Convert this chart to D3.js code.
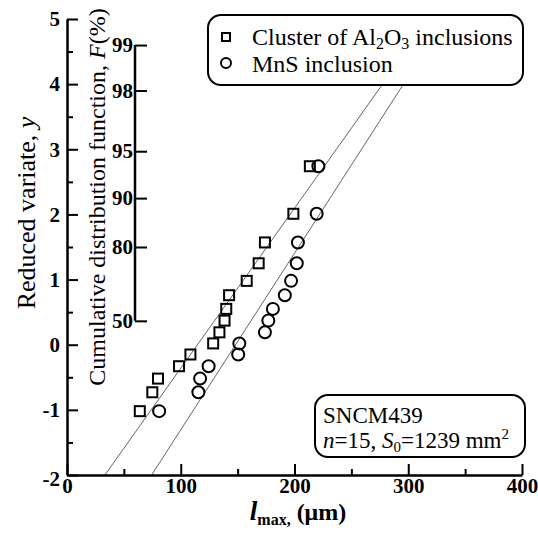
<!DOCTYPE html>
<html>
<head>
<meta charset="utf-8">
<script src="https://cdn.jsdelivr.net/npm/d3@7"></script>
<style>
  body { margin: 0; background: #fff; }
  svg { display: block; font-family: "Liberation Serif", "DejaVu Serif", serif; }
</style>
</head>
<body>
<svg id="chart" width="538" height="536"></svg>
<script>
// l_max (um), sorted
const alX = [64, 75, 80, 98.5, 108.5, 128.5, 134, 138.5, 140, 142.5, 158, 168.5, 174, 199, 213.5];
const alY = [-1.02, -0.73, -0.52, -0.33, -0.15, 0.02, 0.19, 0.37, 0.55, 0.76, 0.98, 1.25, 1.57, 2.01, 2.74];
const mnX = [81, 115.5, 117, 124.5, 150.5, 151.5, 174, 177, 181, 191.5, 197, 202, 203, 219.5, 221];
const mnY = [-1.02, -0.73, -0.52, -0.33, -0.15, 0.02, 0.19, 0.37, 0.55, 0.76, 0.98, 1.25, 1.57, 2.01, 2.74];

// fitted lines y = (x - lambda) / delta
const fitLambda = [114.7, 148.2];
const fitDelta = [40.7, 36.9];

const xTicks = [0, 100, 200, 300, 400];
const yTicks = [-2, -1, 0, 1, 2, 3, 4, 5];
const fTicks = [50, 80, 90, 95, 98, 99];

const svg = d3.select("#chart");

const x = d3.scaleLinear().domain([0, 400]).range([67, 522]);
const y = d3.scaleLinear().domain([-2, 5]).range([475, 19]);

const gumbel = f => -Math.log(-Math.log(f / 100));

// fit lines (drawn first, legend covers their tops)
const lines = svg.append("g");
fitLambda.forEach((lam, k) => {
    const d = fitDelta[k];
    lines.append("line")
        .attr("x1", x(lam - 2 * d)).attr("y1", y(-2))
        .attr("x2", x(lam + 5 * d)).attr("y2", y(5))
        .attr("stroke", "#666").attr("stroke-width", 1);
});

// axes
const yAxis = svg.append("g")
    .attr("transform", `translate(${x(0)},0)`)
    .call(d3.axisLeft(y).tickValues(yTicks).tickFormat(String)
        .tickSize(-11).tickSizeOuter(0).tickPadding(7));
svg.append("g")
    .attr("transform", `translate(${x(0)},0)`)
    .call(d3.axisLeft(y).tickValues(d3.range(-1.5, 5, 1)).tickSize(-6).tickSizeOuter(0).tickFormat(""))
    .select(".domain").remove();

const xAxis = svg.append("g")
    .attr("transform", `translate(0,${y(-2)})`)
    .call(d3.axisBottom(x).tickValues(xTicks).tickFormat(String)
        .tickSize(-11).tickSizeOuter(0).tickPadding(3));
svg.append("g")
    .attr("transform", `translate(0,${y(-2)})`)
    .call(d3.axisBottom(x).tickValues([50, 150, 250, 350]).tickSize(-6).tickSizeOuter(0).tickFormat(""))
    .select(".domain").remove();

svg.selectAll(".domain").attr("stroke-width", 2.5);
svg.selectAll(".tick line").attr("stroke-width", 2);
[yAxis, xAxis].forEach(a => a.selectAll("text")
    .attr("font-family", "Liberation Serif").attr("font-size", 21)
    .attr("font-weight", "bold").attr("fill", "#000"));
yAxis.select(".tick:first-of-type text").attr("dy", "0.5em");

// inner F axis
const fx = 135;
const fAxis = svg.append("g")
    .attr("transform", `translate(${fx},0)`)
    .call(d3.axisLeft(y).tickValues(fTicks.map(gumbel)).tickSize(-12).tickPadding(2)
        .tickFormat(v => Math.round(100 * Math.exp(-Math.exp(-v)))));
fAxis.select(".domain").remove();
fAxis.selectAll(".tick line").attr("stroke-width", 2);
fAxis.selectAll("text").attr("font-family", "Liberation Serif").attr("font-size", 21)
    .attr("font-weight", "bold").attr("fill", "#000");
svg.append("line")
    .attr("x1", fx).attr("x2", fx)
    .attr("y1", y(gumbel(d3.max(fTicks)))).attr("y2", y(gumbel(d3.min(fTicks))))
    .attr("stroke", "#000").attr("stroke-width", 2.5);

// axis titles
svg.append("text")
    .attr("transform", "translate(35,213) rotate(-90)")
    .attr("text-anchor", "middle").attr("font-size", 26)
    .html('Reduced variate, <tspan font-style="italic">y</tspan>');

svg.append("text")
    .attr("transform", "translate(105,197) rotate(-90)")
    .attr("text-anchor", "middle").attr("font-size", 24)
    .html('Cumulative distribution function, <tspan font-style="italic">F</tspan>(%)');

svg.append("text")
    .attr("x", 298).attr("y", 520)
    .attr("text-anchor", "middle").attr("font-size", 24).attr("font-weight", "bold")
    .html('<tspan font-style="italic" font-size="27">l</tspan><tspan font-size="16" dy="5">max,</tspan><tspan dy="-5"> (μm)</tspan>');

// data points
const pts = svg.append("g").attr("fill", "none").attr("stroke", "#000").attr("stroke-width", 2);
pts.selectAll("rect.al")
    .data(alX.map((v, i) => [v, alY[i]]))
    .join("rect")
    .attr("class", "al")
    .attr("x", d => x(d[0]) - 5).attr("y", d => y(d[1]) - 5)
    .attr("width", 10).attr("height", 10);
pts.selectAll("circle.mn")
    .data(mnX.map((v, i) => [v, mnY[i]]))
    .join("circle")
    .attr("class", "mn")
    .attr("cx", d => x(d[0])).attr("cy", d => y(d[1]))
    .attr("r", 6);

// legend
const leg = svg.append("g");
leg.append("rect")
    .attr("x", 208).attr("y", 15).attr("width", 315).attr("height", 70)
    .attr("rx", 13).attr("fill", "#fff").attr("stroke", "#000").attr("stroke-width", 2);
leg.append("rect").attr("x", 222).attr("y", 33).attr("width", 8).attr("height", 8)
    .attr("fill", "none").attr("stroke", "#000").attr("stroke-width", 2);
leg.append("circle").attr("cx", 226).attr("cy", 63).attr("r", 5)
    .attr("fill", "none").attr("stroke", "#000").attr("stroke-width", 2);
leg.append("text").attr("x", 252).attr("y", 45).attr("font-size", 24)
    .html('Cluster of Al<tspan font-size="16" dy="4">2</tspan><tspan dy="-4">O</tspan><tspan font-size="16" dy="4">3</tspan><tspan dy="-4"> inclusions</tspan>');
leg.append("text").attr("x", 252).attr("y", 72).attr("font-size", 24).text("MnS inclusion");

// info box
const info = svg.append("g");
info.append("rect")
    .attr("x", 315).attr("y", 395).attr("width", 210).attr("height", 62)
    .attr("rx", 13).attr("fill", "#fff").attr("stroke", "#000").attr("stroke-width", 2);
info.append("text").attr("x", 323).attr("y", 423).attr("font-size", 23).text("SNCM439");
info.append("text").attr("x", 323).attr("y", 448).attr("font-size", 23)
    .html('<tspan font-style="italic">n</tspan>=15, <tspan font-style="italic">S</tspan><tspan font-size="15" dy="4">0</tspan><tspan dy="-4">=1239 mm</tspan><tspan font-size="15" dy="-9">2</tspan>');
</script>
</body>
</html>
